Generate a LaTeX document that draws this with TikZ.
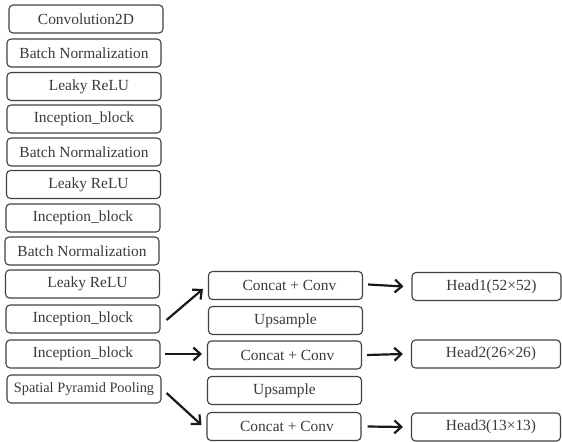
\documentclass[tikz,border=0pt]{standalone}
\usepackage{fontspec}
\setmainfont{Liberation Serif}
\usetikzlibrary{arrows.meta}
\definecolor{txt}{HTML}{3A3A3A}
\definecolor{brd}{HTML}{404040}
\tikzset{
  box/.style={draw=brd, line width=1.1bp, rounded corners=4bp, minimum height=28bp,
    inner sep=0pt, text=txt, font=\fontsize{15.5}{18}\selectfont},
  lbox/.style={box, minimum width=154bp},
  hbox/.style={box, minimum width=149bp},
  arr/.style={draw=black!90, line width=2.2bp, -{Straight Barb[length=7bp,width=13bp,line width=2.2bp]}}
}
\begin{document}
\begin{tikzpicture}[x=1bp,y=-1bp]
\useasboundingbox (0,0) rectangle (562,442);
\node[lbox] (c2d) at (86,19) {Convolution2D};
\node[lbox] (bn1) at (84,53) {Batch Normalization};
\node[lbox] (lr1) at (84,86.5) {\hspace{10bp}Leaky ReLU};
\node[lbox] (ib1) at (84,119) {Inception\_block};
\node[lbox] (bn2) at (84,152) {Batch Normalization};
\node[lbox] (lr2) at (83.5,184.5) {\hspace{10bp}Leaky ReLU};
\node[lbox] (ib0) at (83,218) {Inception\_block};
\node[lbox] (bn3) at (82,251) {Batch Normalization};
\node[lbox] (lr3) at (82.5,284) {\hspace{10bp}Leaky ReLU};
\node[lbox] (ib2) at (83,319) {Inception\_block};
\node[lbox] (ib3) at (83,354) {Inception\_block};
\node[lbox] (spp) at (84,389) {\fontsize{14.4}{17}\selectfont Spatial Pyramid Pooling};
\node[lbox] (cc1) at (285.5,285.5) {\hspace{8bp}Concat + Conv};
\node[lbox] (up1) at (285.5,320.5) {Upsample};
\node[lbox] (cc2) at (284.5,355) {\hspace{6bp}Concat + Conv};
\node[lbox] (up2) at (284.5,390.5) {Upsample};
\node[lbox] (cc3) at (284,426.5) {\hspace{6bp}Concat + Conv};
\node[hbox] (h1) at (486.5,286.5) {\hspace{10bp}Head1(52×52)};
\node[hbox] (h2) at (486,354) {\hspace{10bp}Head2(26×26)};
\node[hbox] (h3) at (486,427) {\hspace{10bp}Head3(13×13)};
\draw[arr] ([xshift=6bp,yshift=-1bp]ib2.east) -- ([xshift=-5bp,yshift=-3.5bp]cc1.west);
\draw[arr] ([xshift=4bp]ib3.east) -- ([xshift=-5bp,yshift=1bp]cc2.west);
\draw[arr] ([xshift=5bp,yshift=-4bp]spp.east) -- ([xshift=-5bp,yshift=1.5bp]cc3.west);
\draw[arr] ([xshift=5bp,yshift=1bp]cc1.east) -- ([xshift=-8bp]h1.west);
\draw[arr] ([xshift=5bp]cc2.east) -- ([xshift=-8bp]h2.west);
\draw[arr] ([xshift=6bp]cc3.east) -- ([xshift=-8bp]h3.west);
\end{tikzpicture}
\end{document}
